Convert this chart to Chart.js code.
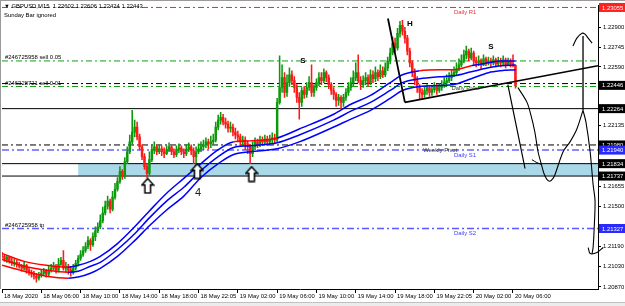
<!DOCTYPE html>
<html><head><meta charset="utf-8">
<script src="https://cdn.jsdelivr.net/npm/chart.js@4.4.0/dist/chart.umd.min.js"></script>
<style>html,body{margin:0;padding:0;background:#fff;overflow:hidden}#wrap{width:625px;height:306px}</style>
</head><body><div id="wrap"><canvas id="c" width="625" height="306"></canvas></div>
<script>
// ---------- DATA ----------
const symbolHeader = "\u25BC GBPUSD,M15  1.22602 1.22606 1.22424 1.22443";
const subHeader = "Sunday Bar ignored";
const xTickIndex = [0,16,32,48,64,80,96,112,128,144,160,176,192,208];
const xTickLabels = ["18 May 2020","18 May 06:00","18 May 10:00","18 May 14:00","18 May 18:00","18 May 22:05","19 May 02:00","19 May 06:00","19 May 10:00","19 May 14:00","19 May 18:00","19 May 22:05","20 May 02:00","20 May 06:00"];
const yTicks = [1.22900,1.22745,1.22590,1.22135,1.21655,1.21500,1.21190,1.21030,1.20870];

const firstOpen = 1.21116;
const closes = [
1.21109,1.21085,1.21101,1.21070,1.21055,1.21062,1.21047,1.21032,1.21016,1.21039,
1.21001,1.20985,1.20970,1.20954,1.20939,1.20962,1.20977,1.20993,1.20970,1.21001,
1.21016,1.21032,1.21001,1.21047,1.21078,1.21016,1.21032,1.21001,1.20985,1.21016,
1.21055,1.21093,1.21124,1.21155,1.21186,1.21232,1.21201,1.21263,1.21309,1.21340,
1.21387,1.21448,1.21502,1.21541,1.21479,1.21572,1.21634,1.21695,1.21773,1.21734,
1.21850,1.21927,1.22004,1.22081,1.22120,1.22043,1.21966,1.21889,1.21811,1.21757,
1.21865,1.21943,1.21966,1.21927,1.21950,1.21927,1.21912,1.21943,1.21966,1.21927,
1.21904,1.21943,1.21958,1.21927,1.21912,1.21943,1.21966,1.21935,1.21889,1.21927,
1.21950,1.21966,1.21981,1.22004,1.21989,1.22004,1.22019,1.22120,1.22174,1.22197,
1.22159,1.22143,1.22112,1.22120,1.22081,1.22058,1.22043,1.22004,1.22019,1.21989,
1.21966,1.21912,1.21966,1.22004,1.21989,1.22019,1.22004,1.22027,1.22004,1.22019,
1.22035,1.22019,1.22313,1.22429,1.22506,1.22390,1.22467,1.22529,1.22483,1.22429,
1.22352,1.22313,1.22406,1.22375,1.22429,1.22467,1.22390,1.22429,1.22467,1.22506,
1.22483,1.22545,1.22506,1.22452,1.22406,1.22375,1.22328,1.22352,1.22313,1.22352,
1.22390,1.22429,1.22467,1.22506,1.22545,1.22483,1.22452,1.22483,1.22506,1.22467,
1.22529,1.22498,1.22545,1.22514,1.22560,1.22529,1.22583,1.22637,1.22699,1.22776,
1.22738,1.22853,1.22915,1.22869,1.22815,1.22714,1.22622,1.22545,1.22483,1.22429,
1.22390,1.22375,1.22406,1.22429,1.22390,1.22413,1.22437,1.22406,1.22429,1.22452,
1.22467,1.22483,1.22506,1.22529,1.22545,1.22575,1.22606,1.22637,1.22684,1.22714,
1.22660,1.22699,1.22637,1.22622,1.22637,1.22606,1.22653,1.22622,1.22637,1.22622,
1.22645,1.22614,1.22637,1.22622,1.22645,1.22606,1.22630,1.22614,1.22602,1.22443];
const highs = [
1.21140,1.21124,1.21116,1.21109,1.21093,1.21085,1.21078,1.21062,1.21047,1.21062,
1.21047,1.21024,1.21001,1.20993,1.20977,1.20985,1.21001,1.21016,1.21008,1.21032,
1.21047,1.21062,1.21047,1.21093,1.21101,1.21155,1.21062,1.21047,1.21032,1.21047,
1.21078,1.21116,1.21155,1.21186,1.21217,1.21263,1.21248,1.21294,1.21340,1.21371,
1.21433,1.21495,1.21541,1.21580,1.21556,1.21618,1.21680,1.21726,1.21811,1.21788,
1.21881,1.21966,1.22058,1.22251,1.22174,1.22159,1.22066,1.21981,1.21912,1.21834,
1.21927,1.21981,1.22004,1.21981,1.21981,1.21974,1.21958,1.21974,1.21997,1.21974,
1.21950,1.21974,1.21989,1.21974,1.21950,1.21981,1.21997,1.21981,1.21958,1.21966,
1.21989,1.22004,1.22019,1.22035,1.22027,1.22050,1.22066,1.22159,1.22213,1.22236,
1.22220,1.22190,1.22166,1.22159,1.22143,1.22112,1.22089,1.22066,1.22050,1.22043,
1.22012,1.21981,1.22004,1.22035,1.22027,1.22050,1.22043,1.22058,1.22050,1.22058,
1.22074,1.22066,1.22344,1.22676,1.22606,1.22545,1.22529,1.22583,1.22560,1.22514,
1.22452,1.22390,1.22429,1.22437,1.22467,1.22514,1.22606,1.22452,1.22498,1.22545,
1.22545,1.22575,1.22560,1.22529,1.22467,1.22429,1.22390,1.22375,1.22367,1.22375,
1.22421,1.22467,1.22506,1.22560,1.22622,1.22684,1.22514,1.22521,1.22545,1.22529,
1.22568,1.22560,1.22591,1.22568,1.22606,1.22591,1.22622,1.22668,1.22738,1.22823,
1.22815,1.22892,1.22946,1.22954,1.22900,1.22838,1.22738,1.22637,1.22575,1.22514,
1.22452,1.22421,1.22437,1.22452,1.22444,1.22437,1.22467,1.22452,1.22460,1.22483,
1.22506,1.22529,1.22545,1.22568,1.22591,1.22622,1.22653,1.22684,1.22722,1.22753,
1.22730,1.22738,1.22714,1.22668,1.22676,1.22653,1.22684,1.22668,1.22668,1.22660,
1.22676,1.22660,1.22668,1.22660,1.22676,1.22660,1.22660,1.22653,1.22684,1.22606];
const lows = [
1.21093,1.21070,1.21062,1.21055,1.21039,1.21032,1.21024,1.21016,1.20993,1.21001,
1.20977,1.20962,1.20947,1.20931,1.20908,1.20923,1.20947,1.20962,1.20947,1.20954,
1.20985,1.21001,1.20977,1.20985,1.21039,1.21001,1.20985,1.20970,1.20954,1.20970,
1.21001,1.21032,1.21078,1.21109,1.21140,1.21170,1.21155,1.21186,1.21232,1.21294,
1.21325,1.21371,1.21433,1.21479,1.21448,1.21464,1.21556,1.21618,1.21680,1.21711,
1.21719,1.21834,1.21912,1.21989,1.22043,1.22019,1.21943,1.21865,1.21788,1.21726,
1.21742,1.21850,1.21912,1.21904,1.21912,1.21896,1.21881,1.21904,1.21927,1.21904,
1.21881,1.21889,1.21919,1.21904,1.21881,1.21896,1.21927,1.21904,1.21834,1.21811,
1.21912,1.21927,1.21943,1.21958,1.21950,1.21958,1.21981,1.22004,1.22097,1.22143,
1.22136,1.22112,1.22081,1.22081,1.22050,1.22027,1.22004,1.21966,1.21981,1.21943,
1.21912,1.21834,1.21889,1.21943,1.21958,1.21966,1.21974,1.21989,1.21974,1.21981,
1.21997,1.21989,1.22004,1.22298,1.22390,1.22352,1.22359,1.22437,1.22452,1.22390,
1.22313,1.22182,1.22282,1.22344,1.22352,1.22406,1.22359,1.22359,1.22406,1.22444,
1.22452,1.22467,1.22475,1.22421,1.22375,1.22336,1.22282,1.22290,1.22259,1.22282,
1.22328,1.22367,1.22406,1.22444,1.22483,1.22467,1.22413,1.22429,1.22452,1.22437,
1.22452,1.22467,1.22475,1.22483,1.22498,1.22506,1.22514,1.22560,1.22614,1.22684,
1.22707,1.22722,1.22823,1.22838,1.22776,1.22684,1.22591,1.22514,1.22452,1.22390,
1.22336,1.22344,1.22352,1.22375,1.22359,1.22367,1.22390,1.22375,1.22390,1.22406,
1.22429,1.22444,1.22467,1.22483,1.22514,1.22529,1.22560,1.22591,1.22622,1.22653,
1.22637,1.22645,1.22606,1.22591,1.22599,1.22575,1.22599,1.22599,1.22606,1.22591,
1.22606,1.22591,1.22599,1.22591,1.22606,1.22583,1.22599,1.22591,1.22591,1.22424];

// moving-average envelope (upper / middle / lower), sampled at bar indices
const bandIndex = [0,9,18,27,31,36,40,47,54,60,67,74,81,88,94,101,112,121,135,142,150,158,163,170,178,184,191,198,203,209];
const bandUpper = [1.21132,1.21070,1.21039,1.21024,1.21039,1.21070,1.21109,1.21209,1.21340,1.21464,1.21603,1.21719,1.21834,1.21943,1.22004,1.22012,1.22035,1.22105,1.22220,1.22298,1.22367,1.22467,1.22529,1.22560,1.22568,1.22568,1.22599,1.22622,1.22637,1.22637];
const bandMid   = [1.21085,1.21032,1.21001,1.20985,1.20993,1.21032,1.21062,1.21163,1.21286,1.21410,1.21541,1.21649,1.21780,1.21889,1.21958,1.21974,1.21997,1.22058,1.22174,1.22244,1.22313,1.22406,1.22467,1.22498,1.22514,1.22521,1.22552,1.22583,1.22599,1.22606];
const bandLower = [1.21039,1.20993,1.20954,1.20939,1.20947,1.20977,1.21016,1.21109,1.21232,1.21348,1.21472,1.21580,1.21726,1.21834,1.21904,1.21927,1.21950,1.22004,1.22120,1.22182,1.22251,1.22344,1.22406,1.22437,1.22444,1.22452,1.22498,1.22545,1.22560,1.22568];

// horizontal levels
const levelNames  = ["Daily R1","sell 0.05","Daily Pivot","sell 0.01","Line A","Weekly Pivot","Daily S1","Zone top","Zone bottom","Daily S2 / tp"];
const levelValues = [1.23055,1.22637,1.22460,1.22437,1.22264,1.21980,1.21940,1.21834,1.21737,1.21327];
const zoneTop = 1.21834, zoneBottom = 1.21737, zoneStartIndex = 31.0;

// price boxes on the right axis
const axisBoxValues = [1.23055,1.22446,1.22264,1.21980,1.21940,1.21834,1.21737,1.21327];

// hand-drawn sketch lines (bar index, price)
const headLegX = [157.1,164.0], headLegY = [1.22969,1.22313];
const necklineX = [164.0,242.6], necklineY = [1.22313,1.22599];
const dropX = [205.9,212.9], dropY = [1.22452,1.21796];
const curveX = [210.0,213.7,215.3,216.9,218.2,219.8,220.6,221.8,223.0,224.3,225.1,228.4,231.2,234.0,236.5];
const curveY = [1.22429,1.22313,1.22213,1.22081,1.21927,1.21811,1.21757,1.21711,1.21696,1.21719,1.21749,1.21927,1.22004,1.22105,1.22251];
const tildeX = [215.7,217.7,219.8], tildeY = [1.21865,1.21842,1.21827];
const riseX = [236.5,236.5], riseY = [1.22251,1.22832];
const capX = [232.4,234.0,236.1,237.3,238.6,240.2], capY = [1.22753,1.22815,1.22853,1.22846,1.22815,1.22776];
const fallX = [236.5,237.7,239.4,240.6,241.4,241.0,240.6,240.2], fallY = [1.22251,1.22159,1.21927,1.21672,1.21541,1.21309,1.21178,1.21132];
const hookX = [238.6,239.4,242.2,244.7], hookY = [1.21178,1.21132,1.21140,1.21178];
const arrowX = [59.3,79.5,101.6], arrowY = [1.21661,1.21776,1.21753];

// text marks (bar index, price)
const marks = [{t:"H",x:166,y:1.22931},{t:"S",x:122.5,y:1.22637},{t:"S",x:199,y:1.22745}];
const countMark = {t:"4",x:79.8,y:1.21603};
const pivotTexts = [
 {t:"Daily R1",x:184,v:1.23055,c:"#e83030"},
 {t:"Daily Pivot",x:183,v:1.22460,c:"#404040"},
 {t:"Weekly Pivot",x:171.5,v:1.21980,c:"#303030"},
 {t:"Daily S1",x:184,v:1.21940,c:"#3a3aff"},
 {t:"Daily S2",x:184,v:1.21327,c:"#3a3aff"}];
const orderTexts = [{t:"#246725958 sell 0.05",v:1.22637},{t:"#246328721 sell 0.01",v:1.22437},{t:"#246725958 tp",v:1.21327}];

// ---------- BUILD ----------
const X_MIN = 0, X_MAX = 242.6;
const FONT = '"Liberation Sans", Arial, sans-serif';
const FS = 5.9;
const opens = closes.map((c,i)=> i===0 ? firstOpen : closes[i-1]);
const GREEN = '#0a9a0a', RED = '#ff1a1a';
const candleColor = closes.map((c,i)=> c >= opens[i] ? GREEN : RED);
const pts = (xs,ys)=> xs.map((x,i)=>({x:x,y:ys[i]}));

const levelStyles = [
 {c:'#ff2020',d:[6,3,2,3],w:1},
 {c:'#10a010',d:[6,3,2,3],w:1},
 {c:'#000000',d:[6,3,2,3],w:1},
 {c:'#10a010',d:[6,3,2,3],w:1},
 {c:'#000000',d:[],w:1},
 {c:'#000000',d:[6,3,2,3],w:1},
 {c:'#8a8aff',d:[7,3,2,3],w:2},
 {c:'#000000',d:[],w:1},
 {c:'#000000',d:[],w:1},
 {c:'#5a5aff',d:[7,3,2,3],w:1.5}];

const datasets = [];
function sketch(xs,ys,w,clip){
  const d={type:'line',data:pts(xs,ys),borderColor:'#000',borderWidth:w,pointRadius:0,tension:0.3,order:0};
  if(clip===false) d.clip=false;
  datasets.push(d);
}
sketch(headLegX,headLegY,1.8);
sketch(necklineX,necklineY,1.6);
sketch(dropX,dropY,1.2);
sketch(curveX,curveY,1.1);
sketch(tildeX,tildeY,1);
sketch(riseX,riseY,1.3);
sketch(capX,capY,1.1);
sketch(fallX,fallY,1.1,false);
sketch(hookX,hookY,1.1,false);

function makeArrow(){
  const c=document.createElement('canvas'); c.width=14; c.height=17;
  const g=c.getContext('2d');
  g.beginPath(); g.moveTo(7,1.2); g.lineTo(12.8,7.8); g.lineTo(9.8,7.8); g.lineTo(9.8,15.8); g.lineTo(4.2,15.8); g.lineTo(4.2,7.8); g.lineTo(1.2,7.8); g.closePath();
  g.fillStyle='#fff'; g.fill(); g.lineWidth=1.5; g.strokeStyle='#000'; g.stroke();
  return c;
}
datasets.push({type:'line',data:pts(arrowX,arrowY),showLine:false,pointStyle:makeArrow(),pointRadius:6,order:0});

function segColor(redFn){ return ctx => redFn(ctx.p0.parsed.x) ? '#ff0000' : '#0000ff'; }
const bandRedAll = x => x < 27;
const bandRedUpper = x => x < 27 || (x >= 94 && x < 112) || (x >= 170 && x < 191);
[[bandUpper,bandRedUpper],[bandMid,bandRedAll],[bandLower,bandRedAll]].forEach(([arr,fn])=>{
  datasets.push({type:'line',data:pts(bandIndex,arr),borderColor:'#0000ff',borderWidth:1.5,pointRadius:0,cubicInterpolationMode:'monotone',order:1,segment:{borderColor:segColor(fn)}});
});

datasets.push({type:'bar',data:closes.map((c,i)=>({x:i,y:[opens[i],c]})),backgroundColor:candleColor,borderWidth:0,barThickness:1.8,grouped:false,order:2});
datasets.push({type:'bar',data:closes.map((c,i)=>({x:i,y:[lows[i],highs[i]]})),backgroundColor:candleColor,borderWidth:0,barThickness:0.9,grouped:false,order:3});

levelValues.forEach((v,k)=>{
  const s=levelStyles[k];
  datasets.push({type:'line',data:[{x:X_MIN,y:v},{x:X_MAX,y:v}],borderColor:s.c,borderDash:s.d,borderWidth:s.w,pointRadius:0,order:5});
});

const zonePlugin = {id:'zone',beforeDatasetsDraw(chart){
  const {ctx,scales:{x,y},chartArea:a}=chart;
  const x0=x.getPixelForValue(zoneStartIndex), y0=y.getPixelForValue(zoneTop), y1=y.getPixelForValue(zoneBottom);
  ctx.save(); ctx.fillStyle='#a9d9e9'; ctx.fillRect(x0,y0,a.right-x0,y1-y0); ctx.restore();
}};

const textPlugin = {id:'texts',afterDatasetsDraw(chart){
  const {ctx,scales:{x,y},chartArea:a}=chart;
  ctx.save();
  ctx.textBaseline='middle'; ctx.textAlign='left';
  ctx.font=FS+'px '+FONT; ctx.fillStyle='#000';
  ctx.fillText(symbolHeader,4,6);
  ctx.fillText(subHeader,4,15.5);
  orderTexts.forEach(o=>{ ctx.fillStyle='#000'; ctx.fillText(o.t,5,y.getPixelForValue(o.v)-3.5); });
  pivotTexts.forEach(p=>{ ctx.fillStyle=p.c; ctx.fillText(p.t,x.getPixelForValue(p.x),y.getPixelForValue(p.v)+5); });
  ctx.textAlign='center';
  marks.forEach(m=>{ ctx.font='bold 8px '+FONT; ctx.fillStyle='#000'; ctx.fillText(m.t,x.getPixelForValue(m.x),y.getPixelForValue(m.y)); });
  ctx.font='11px '+FONT; ctx.fillStyle='#222';
  ctx.fillText(countMark.t,x.getPixelForValue(countMark.x),y.getPixelForValue(countMark.y));
  ctx.restore();
}};

const boxPlugin = {id:'boxes',afterDraw(chart){
  const {ctx,scales:{y},chartArea:a}=chart;
  ctx.save();
  ctx.font=FS+'px '+FONT; ctx.textBaseline='middle'; ctx.textAlign='left';
  axisBoxValues.forEach((v,k)=>{
    const py=y.getPixelForValue(v);
    const col = levelValues.includes(v) ? levelStyles[levelValues.indexOf(v)].c : '#000';
    ctx.fillStyle = col==='#ff2020' ? '#ff2020' : (col==='#8a8aff'||col==='#5a5aff') ? '#2a2aff' : '#000';
    ctx.fillRect(a.right+1,py-4.5,26,9);
    ctx.fillStyle='#fff'; ctx.fillText(v.toFixed(5),a.right+4,py+0.5);
  });
  ctx.strokeStyle='#9a9a9a'; ctx.lineWidth=1;
  ctx.beginPath(); ctx.moveTo(0,0.5); ctx.lineTo(625,0.5); ctx.moveTo(0.5,0); ctx.lineTo(0.5,a.bottom); ctx.stroke();
  ctx.fillStyle='#ececec'; ctx.fillRect(0,303,625,3);
  ctx.strokeStyle='#c0c0c0'; ctx.beginPath(); ctx.moveTo(0,302.5); ctx.lineTo(625,302.5); ctx.stroke();
  ctx.restore();
}};

new Chart(document.getElementById('c'),{
  data:{datasets},
  options:{
    responsive:false,animation:false,devicePixelRatio:1,
    layout:{autoPadding:false,padding:{left:2,top:2,right:0,bottom:0}},
    plugins:{legend:{display:false},tooltip:{enabled:false}},
    scales:{
      x:{type:'linear',min:X_MIN,max:X_MAX,offset:false,
        grid:{drawOnChartArea:false,drawTicks:true,tickLength:4,color:'#000',offset:false},
        border:{color:'#000',width:1},
        afterBuildTicks:s=>{s.ticks=xTickIndex.map(v=>({value:v}));},
        afterFit:s=>{s.height=17;},
        ticks:{autoSkip:false,maxRotation:0,minRotation:0,align:'start',labelOffset:2,padding:0,color:'#000',font:{family:FONT,size:FS},
          callback:(v,i)=>xTickLabels[i]}},
      y:{type:'linear',position:'right',min:1.20854,max:1.23070,
        grid:{drawOnChartArea:false,drawTicks:true,tickLength:3,color:'#000'},
        border:{color:'#000',width:1},
        afterBuildTicks:s=>{s.ticks=yTicks.map(v=>({value:v}));},
        afterFit:s=>{s.width=27;},
        ticks:{padding:2,color:'#000',font:{family:FONT,size:FS},callback:v=>Number(v).toFixed(5)}}
    }
  },
  plugins:[zonePlugin,textPlugin,boxPlugin]
});
</script></body></html>
